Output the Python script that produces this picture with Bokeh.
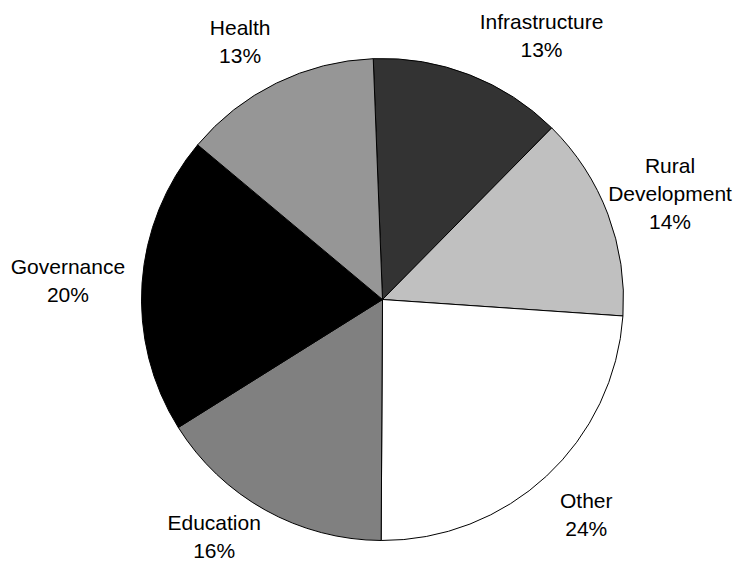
import math
from bokeh.plotting import figure
from bokeh.models import ColumnDataSource, Range1d
from bokeh.core.properties import value
from bokeh.embed import file_html
from bokeh.resources import INLINE

# ---- data ----
categories = ["Infrastructure", "Rural\nDevelopment", "Other", "Education", "Governance", "Health"]
shares = [13.0, 13.7, 24.0, 16.0, 20.0, 13.3]
colors = ["#333333", "#c0c0c0", "#ffffff", "#808080", "#000000", "#969696"]

# ---- layout ----
W_PX, H_PX = 734, 563
CX, CY = 382, 264          # pie centre in plot units (1 unit = 1 px)
R = 241
START_DEG = -2.2           # first slice starts slightly left of 12 o'clock, clockwise
FONT = "Liberation Sans"
FS = 21
LINE_H = 28
GAP, PAD = 11, 6
BASE_SHIFT = 9             # renderer places the alphabetic baseline this much lower
label_nudge = [(0, 0), (-16, 15), (0, -4), (7, 10), (0, 0), (5, 2)]

ARIAL = {"I": 278, "n": 556, "f": 278, "r": 333, "a": 556, "s": 500, "t": 278, "u": 556,
         "c": 500, "e": 556, "R": 722, "l": 222, "D": 722, "v": 500, "o": 556, "p": 556,
         "m": 833, "O": 778, "h": 556, "E": 667, "d": 556, "i": 222, "G": 778, "H": 722,
         "%": 889, " ": 278}


def text_w(s):
    return sum(ARIAL.get(ch, 556) for ch in s) / 1000.0 * FS


total = sum(shares)
acc = START_DEG
wedge = dict(start=[], end=[], color=[])
lx, ly, lt = [], [], []
for i, (cat, v, col) in enumerate(zip(categories, shares, colors)):
    a0 = acc
    a1 = acc + v / total * 360.0
    acc = a1
    # clockwise-from-top -> math angle
    wedge["start"].append(math.radians(90 - a1))
    wedge["end"].append(math.radians(90 - a0))
    wedge["color"].append(col)

    mid = math.radians((a0 + a1) / 2)
    s, c = math.sin(mid), math.cos(mid)
    ax = CX + (R + GAP) * s
    ay = CY + (R + GAP) * c
    lines = cat.split("\n") + ["%d%%" % round(v)]
    bw = max(text_w(t) for t in lines)
    bh = LINE_H * len(lines)
    if s > 0.3:
        bx = ax + PAD + bw / 2
    elif s < -0.3:
        bx = ax - PAD - bw / 2
    else:
        bx = ax
    if c > 0.4:
        btop = ay + bh
    elif c < -0.4:
        btop = ay
    else:
        btop = ay + bh / 2
    nx, ny = label_nudge[i]
    bx += nx
    btop += ny
    for k, t in enumerate(lines):
        cap_mid = btop - LINE_H / 2 - k * LINE_H
        lx.append(bx)
        ly.append(cap_mid - 0.358 * FS + BASE_SHIFT)
        lt.append(t)

p = figure(width=W_PX, height=H_PX, x_range=Range1d(0, W_PX), y_range=Range1d(0, H_PX),
           output_backend="svg", toolbar_location=None, min_border=0)
p.axis.visible = False
p.grid.visible = False
p.outline_line_color = None
p.background_fill_color = "white"
p.border_fill_color = "white"

p.wedge(x=CX, y=CY, radius=R, start_angle="start", end_angle="end", direction="anticlock",
        fill_color="color", line_color="black", line_width=1,
        source=ColumnDataSource(wedge))

p.text(x=lx, y=ly, text=lt, text_font=value(FONT), text_font_size="%dpx" % FS,
       text_align="center", text_baseline="alphabetic", text_color="#000000")

open("out.html", "w").write(file_html(p, INLINE))
